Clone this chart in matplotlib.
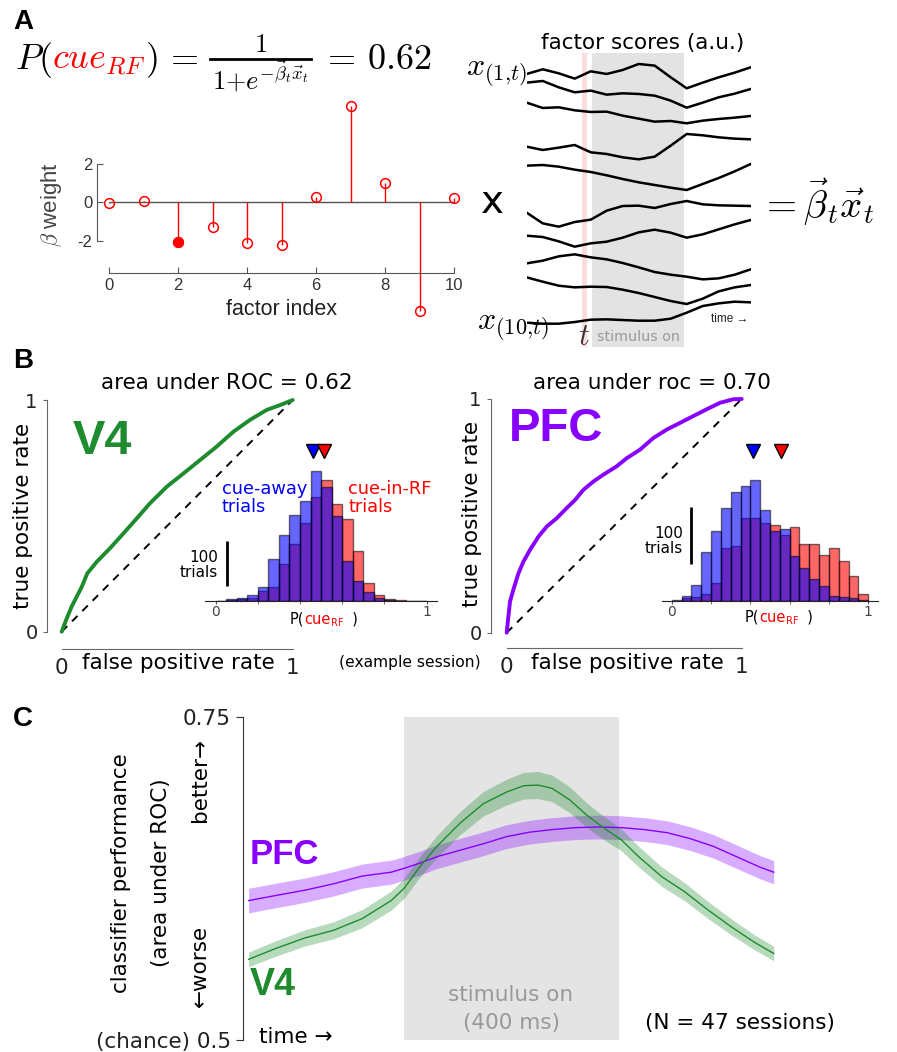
import numpy as np
import matplotlib
matplotlib.use('Agg')
import matplotlib.pyplot as plt
from matplotlib.lines import Line2D

plt.rcParams['font.family'] = 'DejaVu Sans'
plt.rcParams['mathtext.fontset'] = 'cm'
plt.rcParams['axes.unicode_minus'] = False

# ---------------- data ----------------
# panel A: logistic weights per factor
factor_index = [0, 1, 2, 3, 4, 5, 6, 7, 8, 9, 10]
beta_weight = [-0.07, 0.07, -2.1, -1.28, -2.15, -2.25, 0.26, 5.0, 0.97, -5.66, 0.21]
chosen_factor = 2

# panel A: factor score traces (screen depth, a.u.; larger = lower)
score_time = [0, 1, 2, 3, 4, 5, 6, 7, 8, 9, 10, 11, 12, 13, 14]
factor_scores = [
    [222, 208, 220, 236, 214, 222, 210, 192, 197, 232, 265, 248, 232, 218, 202],
    [248, 243, 262, 277, 272, 284, 280, 282, 287, 302, 323, 308, 292, 281, 267],
    [308, 324, 322, 331, 336, 335, 347, 356, 365, 363, 370, 362, 357, 353, 348],
    [440, 450, 443, 435, 457, 462, 472, 478, 470, 437, 402, 406, 412, 416, 418],
    [497, 495, 500, 509, 516, 526, 537, 547, 555, 563, 570, 552, 534, 514, 492],
    [638, 670, 680, 666, 659, 632, 618, 617, 624, 612, 603, 613, 616, 617, 618],
    [707, 711, 724, 740, 730, 725, 713, 697, 689, 698, 713, 703, 688, 673, 660],
    [790, 782, 769, 763, 772, 778, 789, 802, 816, 824, 830, 838, 835, 824, 808],
    [832, 845, 857, 862, 860, 861, 869, 879, 891, 903, 912, 896, 874, 862, 855],
    [968, 971, 971, 966, 959, 958, 960, 962, 962, 956, 938, 918, 910, 905, 907],
]
stim_window_bins = (4.1, 9.83)
t_window_bins = (3.46, 3.79)

# panel B: ROC curves
roc_v4_fpr = [0, 0.022, 0.043, 0.065, 0.087, 0.111, 0.152, 0.209, 0.267, 0.325, 0.382,
              0.455, 0.527, 0.599, 0.671, 0.743, 0.815, 0.887, 0.945, 1.0]
roc_v4_tpr = [0, 0.058, 0.108, 0.151, 0.194, 0.252, 0.302, 0.360, 0.424, 0.489, 0.554,
              0.626, 0.683, 0.741, 0.799, 0.863, 0.914, 0.957, 0.978, 1.0]
roc_pfc_fpr = [0, 0.007, 0.014, 0.028, 0.050, 0.071, 0.099, 0.135, 0.170, 0.213, 0.255, 0.291,
               0.326, 0.369, 0.411, 0.468, 0.511, 0.567, 0.624, 0.681, 0.738, 0.794, 0.851,
               0.908, 0.965, 1.0]
roc_pfc_tpr = [0, 0.068, 0.133, 0.183, 0.254, 0.304, 0.354, 0.411, 0.454, 0.490, 0.533, 0.568,
               0.611, 0.647, 0.676, 0.712, 0.747, 0.783, 0.833, 0.869, 0.898, 0.927, 0.956,
               0.984, 0.999, 1.0]

# panel B: histograms of P(cue_RF), 20 bins of 0.05
hist_edges = np.linspace(0, 1, 21)
v4_away = [0, 3, 7, 13, 31, 93, 147, 190, 221, 289, 253, 188, 88, 44, 20, 7, 1, 0, 0, 0]
v4_inrf = [0, 1, 4, 5, 22, 30, 81, 126, 172, 230, 268, 216, 181, 110, 40, 13, 3, 1, 0, 0]
pfc_away = [1, 9, 27, 85, 120, 160, 189, 199, 209, 157, 120, 125, 77, 56, 37, 25, 8, 7, 4, 2]
pfc_inrf = [0, 4, 7, 12, 30, 91, 95, 143, 144, 135, 131, 114, 127, 99, 99, 79, 92, 68, 43, 11]
v4_means = (0.46, 0.512)
pfc_means = (0.415, 0.556)

# panel C: classifier performance over time (ms from stimulus onset)
v4_time = [-289, -238, -185, -131, -78, -24, 0, 29, 61, 104, 147, 190, 222, 249, 275, 308,
           340, 372, 404, 436, 479, 521, 564, 607, 650, 687]
v4_auc = [0.5625, 0.571, 0.579, 0.585, 0.594, 0.608, 0.6175, 0.634, 0.650, 0.668, 0.683,
          0.692, 0.697, 0.6975, 0.695, 0.686, 0.674, 0.664, 0.655, 0.642, 0.6265, 0.615,
          0.601, 0.588, 0.576, 0.567]
v4_sem = [0.0057, 0.006, 0.0063, 0.0066, 0.007, 0.0074, 0.0077, 0.008, 0.0085, 0.009, 0.0095,
          0.01, 0.0103, 0.0105, 0.0103, 0.01, 0.0095, 0.009, 0.0085, 0.008, 0.0075, 0.007,
          0.0066, 0.0062, 0.0058, 0.0056]
pfc_time = [-289, -238, -185, -131, -78, -24, 0, 29, 61, 104, 147, 190, 233, 275, 318, 361,
            404, 447, 489, 532, 575, 618, 661, 687]
pfc_auc = [0.608, 0.612, 0.616, 0.621, 0.627, 0.630, 0.633, 0.637, 0.642, 0.647, 0.652,
           0.6575, 0.661, 0.663, 0.6645, 0.665, 0.6645, 0.663, 0.6606, 0.656, 0.650, 0.642,
           0.634, 0.630]
pfc_sem = [0.0095, 0.0095, 0.0094, 0.0094, 0.0093, 0.0093, 0.0092, 0.0092, 0.0092, 0.0092,
           0.0092, 0.0092, 0.0092, 0.0092, 0.0092, 0.0092, 0.0092, 0.0092, 0.0092, 0.0092,
           0.0091, 0.0091, 0.009, 0.009]
stim_ms = (0, 400)

GREEN = '#1e8c2e'
PURPLE = '#8800ff'
ARIAL = 'Liberation Sans'

# ---------------- figure ----------------
W, H = 897, 1052
fig = plt.figure(figsize=(W / 100, H / 100), dpi=100)
rend = fig.canvas.get_renderer()


def axpx(x0, y0, x1, y1):
    return fig.add_axes([x0 / W, 1 - y1 / H, (x1 - x0) / W, (y1 - y0) / H])


def ftext(x, y, s, **kw):
    return fig.text(x / W, 1 - y / H, s, **kw)


def chain(x, y, parts, **kw):
    # parts: (text, colour, fontsize, dy)
    for s, c, fs, dy in parts:
        t = ftext(x, y + dy, s, color=c, fontsize=fs, ha='left', va='baseline', **kw)
        x = t.get_window_extent(rend).x1
    return x


# panel labels
for lab, yy in [('A', 22), ('B', 361), ('C', 719)]:
    ftext(23, yy, lab, fontsize=20, fontweight='bold', family=ARIAL, ha='center', va='center')

# ---- A: equation ----
xe = chain(15, 69, [(r'$P($', 'k', 26, 0),
                    (r'$cue_{RF}$', 'red', 26, 0),
                    (r'$)\,=$', 'k', 26, 0)])
den = ftext(xe + 13, 89, r'$1{+}e^{-\vec{\beta}_t\vec{x}_t}$', ha='left', va='baseline',
            fontsize=19)
bb = den.get_window_extent(rend)
fig.add_artist(Line2D([(xe + 11) / W, (bb.x1 + 2) / W], [1 - 59 / H, 1 - 59 / H],
                      color='k', lw=2))
ftext((xe + 11 + bb.x1 + 2) / 2, 52, r'$1$', ha='center', va='baseline', fontsize=19)
ftext(bb.x1 + 12, 69, r'$=\,0.62$', ha='left', va='baseline', fontsize=26)

# ---- A: stem plot ----
ax = axpx(97.2, 100, 460.9, 317.5)
ax.set_xlim(-0.35, 10.2)
ax.set_ylim(-6, 5.3)
ax.patch.set_alpha(0)
ax.hlines(0, 0, 10, color='#555555', lw=1)
ax.vlines(factor_index, 0, beta_weight, color='red', lw=1)
ax.plot(factor_index, beta_weight, 'o', ms=7, mfc='none', mec='red', mew=1.1, clip_on=False)
ax.plot(factor_index[chosen_factor], beta_weight[chosen_factor], 'o', ms=7, color='red')
for s in ['top', 'right']:
    ax.spines[s].set_visible(False)
ax.spines['left'].set_bounds(-2, 2)
ax.spines['bottom'].set_position(('data', -3.69))
ax.spines['bottom'].set_bounds(0, 10)
for s in ['left', 'bottom']:
    ax.spines[s].set_color('#555555')
ax.set_xticks([0, 2, 4, 6, 8, 10])
ax.set_yticks([-2, 0, 2])
ax.tick_params(direction='in', length=4, color='#555555', labelcolor='#333333', labelsize=12)
for lbl in ax.get_xticklabels() + ax.get_yticklabels():
    lbl.set_family(ARIAL)
ax.text(5, -5.6, 'factor index', ha='center', va='center', fontsize=15.5, family=ARIAL,
        color='#222222')
ftext(52, 205, r'$\beta$ weight', rotation=90, ha='center', va='center', fontsize=16,
      family=ARIAL, color='#444444')

# ---- A: factor scores ----
ax = axpx(526.7, 53.3, 750.7, 346.7)
ax.set_xlim(0, 14)
ax.set_ylim(1040, 160)
ax.axvspan(*stim_window_bins, color='#e3e3e3', lw=0)
ax.axvspan(*t_window_bins, color='#fcdcdc', lw=0)
for row in factor_scores:
    ax.plot(score_time, row, color='k', lw=1.8, solid_joinstyle='round')
ax.axis('off')
ftext(643, 43, 'factor scores (a.u.)', ha='center', va='center', fontsize=15.5)
ftext(466, 76, r'$x_{(1{,}t)}$', ha='left', va='baseline', fontsize=23)
ftext(477, 330, r'$x_{(10{,}t)}$', ha='left', va='baseline', fontsize=23)
ftext(492, 202, 'x', ha='center', va='center', fontsize=28)
ftext(760, 218, r'$=\vec{\beta}_t\vec{x}_t$', ha='left', va='baseline', fontsize=28)
ftext(584, 345, r'$t$', ha='center', va='baseline', fontsize=22, color='#333333')
ftext(638, 337, 'stimulus on', ha='center', va='center', fontsize=10.3, color='#999999')
ftext(730, 319, 'time \u2192', ha='center', va='center', fontsize=8.5, family=ARIAL,
      color='#222222')


# ---- B: ROC + histogram ----
def roc_panel(box, x0px, x1px, y0px, y1px, fpr, tpr, color):
    a = axpx(*box)
    sx = (x1px - x0px)
    sy = (y0px - y1px)
    a.set_xlim((box[0] - x0px) / sx, (box[2] - x0px) / sx)
    a.set_ylim((y0px - box[3]) / sy, (y0px - box[1]) / sy)
    a.patch.set_alpha(0)
    a.plot([0, 1], [0, 1], color='k', lw=1.4, dashes=(4, 3.5))
    a.plot(fpr, tpr, color=color, lw=2.8, solid_capstyle='round', solid_joinstyle='round')
    for s in ['top', 'right']:
        a.spines[s].set_visible(False)
    for s in ['left', 'bottom']:
        a.spines[s].set_bounds(0, 1)
        a.spines[s].set_color('#666666')
    a.set_xticks([0, 1])
    a.set_yticks([0, 1])
    a.tick_params(axis='y', direction='out', length=3, color='#666666', labelsize=14,
                  labelcolor='#222222')
    a.tick_params(axis='x', direction='out', length=0, labelsize=15.5, labelcolor='#222222',
                  pad=6)
    return a


def hist_panel(box, x0px, x1px, base_px, px_per_trial, away, inrf, means, bar_x, bar_lo):
    a = axpx(*box)
    sx = x1px - x0px
    a.set_xlim((box[0] - x0px) / sx, (box[2] - x0px) / sx)
    a.set_ylim(0, (base_px - box[1]) / px_per_trial)
    a.patch.set_alpha(0)
    w = hist_edges[1] - hist_edges[0]
    a.bar(hist_edges[:-1], inrf, width=w, align='edge', facecolor=(1, 0, 0, 0.6),
          edgecolor=(0, 0, 0, 0.55), lw=1)
    a.bar(hist_edges[:-1], away, width=w, align='edge', facecolor=(0, 0, 1, 0.6),
          edgecolor=(0, 0, 0, 0.55), lw=1)
    ytri = (base_px - box[1]) / px_per_trial - 10.5 / px_per_trial
    a.plot(means[0], ytri, 'v', ms=10, mfc='blue', mec='k', mew=1, clip_on=False)
    a.plot(means[1], ytri, 'v', ms=10, mfc='red', mec='k', mew=1, clip_on=False)
    a.vlines(bar_x, bar_lo, bar_lo + 100, color='k', lw=2)
    for s in ['top', 'right', 'left']:
        a.spines[s].set_visible(False)
    a.spines['bottom'].set_color('#222222')
    a.set_yticks([])
    a.set_xticks([0, 1])
    a.set_xticks([0.2, 0.4, 0.6, 0.8], minor=True)
    a.tick_params(axis='x', which='both', direction='out', length=2, color='#555555',
                  labelsize=10, labelcolor='#444444', pad=1)
    return a


roc_panel((46.7, 395, 300, 649.3), 61.7, 292.7, 631.7, 400, roc_v4_fpr, roc_v4_tpr, GREEN)
roc_panel((490.7, 395, 750, 648.3), 506.7, 741.7, 632.7, 399, roc_pfc_fpr, roc_pfc_tpr, PURPLE)

hist_panel((205, 440, 436.7, 600.7), 215.5, 426.7, 600.7, 0.45, v4_away, v4_inrf, v4_means,
           0.053, 33)
hist_panel((661.7, 440, 878.3, 600.7), 671.7, 868.3, 600.7, 0.577, pfc_away, pfc_inrf,
           pfc_means, 0.098, 63)

ftext(227, 383, 'area under ROC = 0.62', ha='center', va='center', fontsize=15.5)
ftext(652, 383, 'area under roc = 0.70', ha='center', va='center', fontsize=15.5)
ftext(73, 442, 'V4', ha='left', va='center', fontsize=35, fontweight='bold', family=ARIAL,
      color=GREEN)
ftext(509, 429, 'PFC', ha='left', va='center', fontsize=34, fontweight='bold', family=ARIAL,
      color=PURPLE)
ftext(23, 516, 'true positive rate', rotation=90, ha='center', va='center', fontsize=15.5)
ftext(472, 514, 'true positive rate', rotation=90, ha='center', va='center', fontsize=15.5)
ftext(178, 663, 'false positive rate', ha='center', va='center', fontsize=15.5)
ftext(627, 663, 'false positive rate', ha='center', va='center', fontsize=15.5)
ftext(410, 662, '(example session)', ha='center', va='center', fontsize=11.2)

ftext(221.7, 498, 'cue-away\ntrials', ha='left', va='center', fontsize=12.8, color='blue',
      linespacing=1.05)
ftext(348, 498, 'cue-in-RF\ntrials', ha='left', va='center', fontsize=12.8, color='red',
      linespacing=1.05)
ftext(218, 565, '100\ntrials', ha='right', va='center', fontsize=11, linespacing=0.95)
ftext(682.7, 541, '100\ntrials', ha='right', va='center', fontsize=11, linespacing=0.95)

for xs, ys in [(290, 624), (745, 622)]:
    chain(xs, ys, [('P(', 'k', 10.5, 0), ('cue', 'red', 10.5, 0), ('RF', 'red', 7, 2.5),
                   ('  )', 'k', 10.5, 0)])

# ---- C: performance over time ----
ax = axpx(242.7, 717.3, 780.7, 1040)
ax.set_xlim(-300, 700)
ax.set_ylim(0.5, 0.75)
ax.patch.set_alpha(0)
ax.axvspan(*stim_ms, color='#e4e4e4', lw=0, zorder=0)
ax.fill_between(pfc_time, np.subtract(pfc_auc, pfc_sem), np.add(pfc_auc, pfc_sem),
                color=PURPLE, alpha=0.32, lw=0)
ax.plot(pfc_time, pfc_auc, color=PURPLE, lw=1)
ax.fill_between(v4_time, np.subtract(v4_auc, v4_sem), np.add(v4_auc, v4_sem),
                color=GREEN, alpha=0.32, lw=0)
ax.plot(v4_time, v4_auc, color=GREEN, lw=1)
for s in ['top', 'right', 'bottom']:
    ax.spines[s].set_visible(False)
ax.spines['left'].set_color('#333333')
ax.set_xticks([])
ax.set_yticks([0.5, 0.75])
ax.set_yticklabels(['(chance) 0.5', '0.75'])
ax.tick_params(axis='y', direction='out', length=5, color='#333333', labelsize=15.5,
               labelcolor='#222222')

ftext(121, 873, 'classifier performance', rotation=90, ha='center', va='center', fontsize=15.5)
ftext(161, 873, '(area under ROC)', rotation=90, ha='center', va='center', fontsize=15.5)
ftext(200, 780, 'better\u2192', rotation=90, ha='center', va='center', fontsize=15.5)
ftext(200, 966, '\u2190worse', rotation=90, ha='center', va='center', fontsize=15.5)
ftext(284, 855, 'PFC', ha='center', va='center', fontsize=25, fontweight='bold', family=ARIAL,
      color=PURPLE)
ftext(250, 985, 'V4', ha='left', va='center', fontsize=27, fontweight='bold', family=ARIAL,
      color=GREEN)
ftext(511, 995, 'stimulus on', ha='center', va='center', fontsize=15.5, color='#999999')
ftext(511, 1023, '(400 ms)', ha='center', va='center', fontsize=15.5, color='#999999')
ftext(740, 1023, '(N = 47 sessions)', ha='center', va='center', fontsize=15.5)
ftext(259, 1037, 'time \u2192', ha='left', va='center', fontsize=15.5)

fig.savefig('out.png', dpi=100)
